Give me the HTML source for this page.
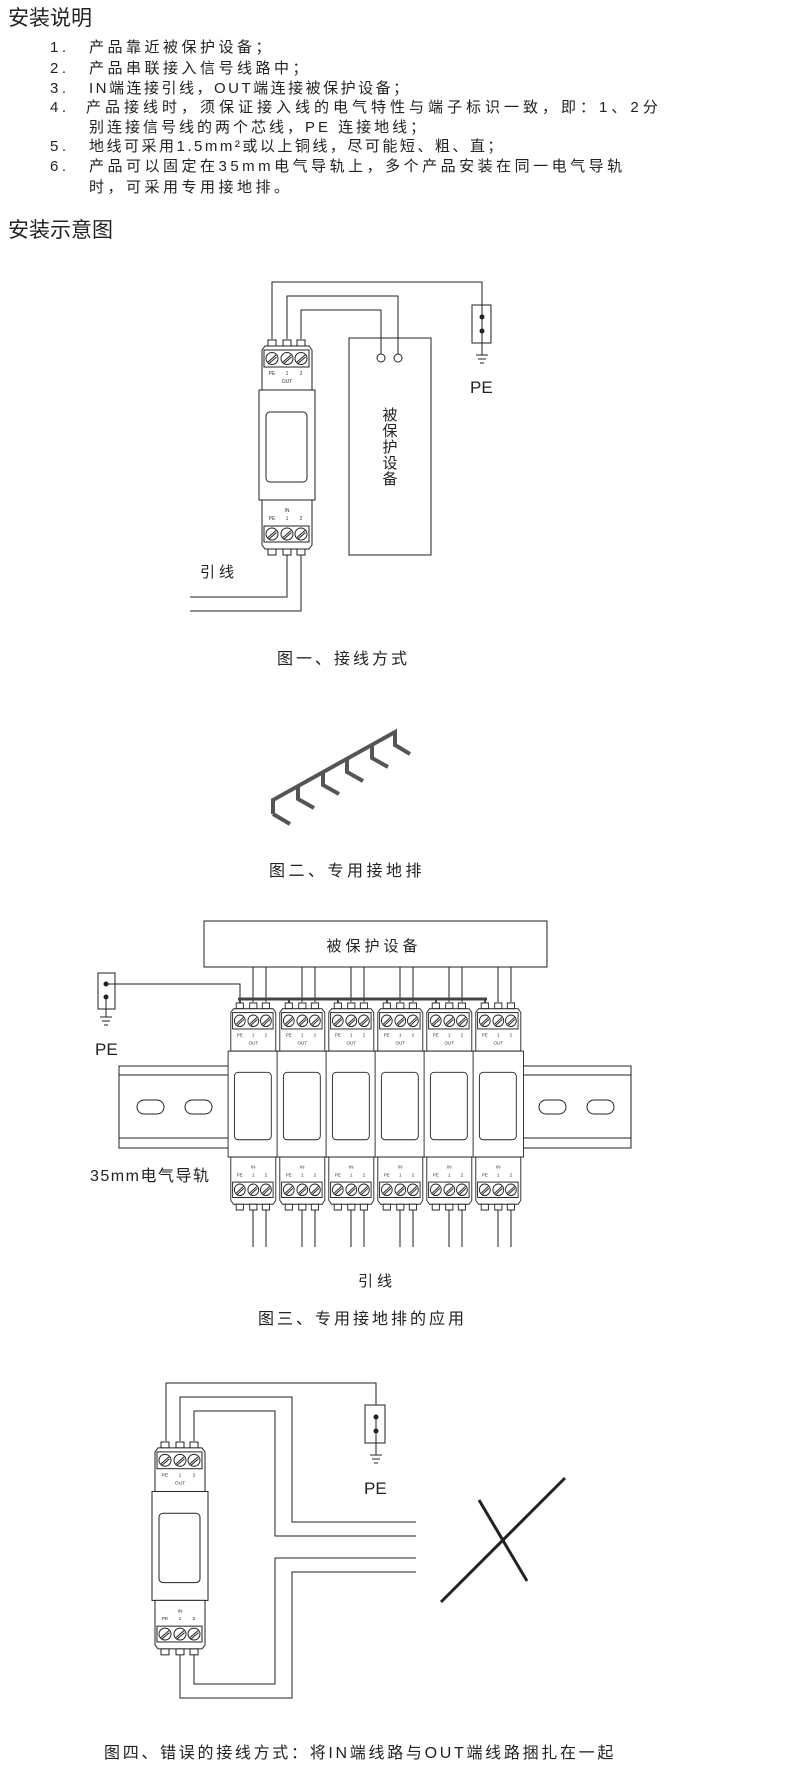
<!DOCTYPE html>
<html><head><meta charset="utf-8"><style>
html,body{margin:0;padding:0;background:#fff;}
svg{display:block;}
text{font-family:"Liberation Sans","Noto Sans CJK SC",sans-serif;fill:#222;}
.t{font-size:5px;fill:#333;}
</style></head><body>
<svg width="790" height="1776" viewBox="0 0 790 1776" xmlns="http://www.w3.org/2000/svg">
<defs>
<g id="dev" stroke="#222" stroke-width="1" fill="#fff">
  <rect x="8" y="1" width="8" height="6"/><rect x="23" y="1" width="8" height="6"/><rect x="37" y="1" width="8" height="6"/>
  <path d="M2,11 L5,7 H49 L52,11 V51 H2 Z"/>
  <rect x="4" y="11" width="45" height="17"/>
  <circle cx="12" cy="19.5" r="6"/><circle cx="27" cy="19.5" r="6"/><circle cx="41" cy="19.5" r="6"/>
  <path d="M8,23 L16,16 M9,24.5 L16.5,18 M23,23 L31,16 M24,24.5 L31.5,18 M37,23 L45,16 M38,24.5 L45.5,18" fill="none"/>
  <rect x="-1" y="51" width="56" height="110"/>
  <rect x="6" y="73" width="41" height="70" rx="4"/>
  <path d="M2,161 H52 V206 L49,210 H5 L2,206 Z"/>
  <rect x="4" y="187" width="45" height="16"/>
  <circle cx="12" cy="195" r="6"/><circle cx="27" cy="195" r="6"/><circle cx="41" cy="195" r="6"/>
  <path d="M8,198.5 L16,191.5 M9,200 L16.5,193.5 M23,198.5 L31,191.5 M24,200 L31.5,193.5 M37,198.5 L45,191.5 M38,200 L45.5,193.5" fill="none"/>
  <rect x="8" y="210" width="8" height="6"/><rect x="23" y="210" width="8" height="6"/><rect x="37" y="210" width="8" height="6"/>
</g>
<g id="gnd" stroke="#222" stroke-width="1">
  <line x1="-6" y1="0" x2="6" y2="0"/><line x1="-4" y1="4" x2="4" y2="4"/><line x1="-2" y1="8" x2="2" y2="8"/>
</g>
</defs>

<!-- Text section -->
<text x="8" y="25" font-size="21">安装说明</text>
<g font-size="15" letter-spacing="3.5">
<text x="50" y="52">1.</text><text x="89" y="52">产品靠近被保护设备；</text>
<text x="50" y="73">2.</text><text x="89" y="73">产品串联接入信号线路中；</text>
<text x="50" y="93">3.</text><text x="89" y="93" letter-spacing="2.5">IN端连接引线，OUT端连接被保护设备；</text>
<text x="50" y="112">4.</text><text x="86" y="112" letter-spacing="4">产品接线时，须保证接入线的电气特性与端子标识一致，即：1、2分</text>
<text x="89" y="132" letter-spacing="3">别连接信号线的两个芯线，PE 连接地线；</text>
<text x="50" y="151">5.</text><text x="89" y="151" letter-spacing="2.5">地线可采用1.5mm²或以上铜线，尽可能短、粗、直；</text>
<text x="50" y="171">6.</text><text x="89" y="171" letter-spacing="3.5">产品可以固定在35mm电气导轨上，多个产品安装在同一电气导轨</text>
<text x="89" y="192">时，可采用专用接地排。</text>
</g>
<text x="8" y="237" font-size="21">安装示意图</text>

<!-- Figure 1 -->
<g fill="none" stroke="#222" stroke-width="1">
  <path d="M272,339 V282 H482 V343"/>
  <path d="M287,339 V296 H398 V354"/>
  <path d="M301,339 V310 H381 V354"/>
  <path d="M287,555 V597 H190"/>
  <path d="M301,555 V611 H190"/>
  <rect x="349" y="338" width="82" height="217"/>
  <circle cx="381" cy="358" r="4" fill="#fff"/>
  <circle cx="398" cy="358" r="4" fill="#fff"/>
  <rect x="472" y="305" width="19" height="38"/>
  <line x1="482" y1="343" x2="482" y2="355"/>
</g>
<circle cx="482" cy="317" r="2.5" fill="#222"/><circle cx="482" cy="331" r="2.5" fill="#222"/>
<use href="#gnd" x="482" y="355"/>
<g transform="translate(260,339)"><use href="#dev"/>
<text class="t" x="12" y="36" text-anchor="middle">PE</text><text class="t" x="27" y="36" text-anchor="middle">1</text><text class="t" x="41" y="36" text-anchor="middle">2</text><text class="t" x="27" y="44" text-anchor="middle">OUT</text>
<text class="t" x="27" y="173" text-anchor="middle">IN</text><text class="t" x="12" y="181" text-anchor="middle">PE</text><text class="t" x="27" y="181" text-anchor="middle">1</text><text class="t" x="41" y="181" text-anchor="middle">2</text></g>
<g font-size="15" text-anchor="middle">
<text x="390" y="420">被</text><text x="390" y="436">保</text><text x="390" y="452">护</text><text x="390" y="468">设</text><text x="390" y="484">备</text>
</g>
<text x="470" y="393" font-size="17">PE</text>
<text x="200" y="577" font-size="15" letter-spacing="4">引线</text>
<text x="277" y="664" font-size="16" letter-spacing="3">图一、接线方式</text>

<!-- Figure 2 -->
<g fill="none" stroke="#555" stroke-width="4" stroke-linejoin="miter">
  <path d="M273,814 V800 L395,732 V745 L410,754"/>
  <path d="M273,814 L290,824"/>
  <path d="M298,786 V799 L314,808"/>
  <path d="M323,772 V785 L339,794"/>
  <path d="M347,759 V772 L363,781"/>
  <path d="M372,745 V758 L388,767"/>
</g>
<text x="269" y="876" font-size="16" letter-spacing="3.5">图二、专用接地排</text>

<!-- Figure 3 -->
<g fill="none" stroke="#222" stroke-width="1">
  <rect x="204" y="921" width="343" height="46"/>
  <rect x="119" y="1066" width="512" height="82"/>
  <line x1="119" y1="1075" x2="631" y2="1075"/><line x1="119" y1="1138" x2="631" y2="1138"/>
  <rect x="137" y="1100" width="27" height="14" rx="7"/><rect x="185" y="1100" width="27" height="14" rx="7"/>
  <rect x="539" y="1100" width="27" height="14" rx="7"/><rect x="587" y="1100" width="27" height="14" rx="7"/>
  <path d="M253,967 V1002 M266,967 V1002 M302,967 V1002 M315,967 V1002 M351,967 V1002 M364,967 V1002 M400,967 V1002 M413,967 V1002 M449,967 V1002 M462,967 V1002 M498,967 V1002 M511,967 V1002"/>
  <path d="M253,1210 V1247 M266,1210 V1247 M302,1210 V1247 M315,1210 V1247 M351,1210 V1247 M364,1210 V1247 M400,1210 V1247 M413,1210 V1247 M449,1210 V1247 M462,1210 V1247 M498,1210 V1247 M511,1210 V1247"/>
  <rect x="98" y="973" width="17" height="36"/>
  <path d="M106,984 H240 V999"/>
  <line x1="106" y1="997" x2="106" y2="1017"/>
</g>
<circle cx="106" cy="984" r="2.5" fill="#222"/><circle cx="106" cy="997" r="2.5" fill="#222"/>
<use href="#gnd" x="106" y="1017"/>
<text x="374" y="951" font-size="15" text-anchor="middle" letter-spacing="4">被保护设备</text>
<g transform="translate(229,1002) scale(0.9,0.963)"><use href="#dev"/>
<text class="t" x="12" y="36" text-anchor="middle">PE</text><text class="t" x="27" y="36" text-anchor="middle">1</text><text class="t" x="41" y="36" text-anchor="middle">2</text><text class="t" x="27" y="44" text-anchor="middle">OUT</text>
<text class="t" x="27" y="173" text-anchor="middle">IN</text><text class="t" x="12" y="181" text-anchor="middle">PE</text><text class="t" x="27" y="181" text-anchor="middle">1</text><text class="t" x="41" y="181" text-anchor="middle">2</text></g>
<g transform="translate(278,1002) scale(0.9,0.963)"><use href="#dev"/>
<text class="t" x="12" y="36" text-anchor="middle">PE</text><text class="t" x="27" y="36" text-anchor="middle">1</text><text class="t" x="41" y="36" text-anchor="middle">2</text><text class="t" x="27" y="44" text-anchor="middle">OUT</text>
<text class="t" x="27" y="173" text-anchor="middle">IN</text><text class="t" x="12" y="181" text-anchor="middle">PE</text><text class="t" x="27" y="181" text-anchor="middle">1</text><text class="t" x="41" y="181" text-anchor="middle">2</text></g>
<g transform="translate(327,1002) scale(0.9,0.963)"><use href="#dev"/>
<text class="t" x="12" y="36" text-anchor="middle">PE</text><text class="t" x="27" y="36" text-anchor="middle">1</text><text class="t" x="41" y="36" text-anchor="middle">2</text><text class="t" x="27" y="44" text-anchor="middle">OUT</text>
<text class="t" x="27" y="173" text-anchor="middle">IN</text><text class="t" x="12" y="181" text-anchor="middle">PE</text><text class="t" x="27" y="181" text-anchor="middle">1</text><text class="t" x="41" y="181" text-anchor="middle">2</text></g>
<g transform="translate(376,1002) scale(0.9,0.963)"><use href="#dev"/>
<text class="t" x="12" y="36" text-anchor="middle">PE</text><text class="t" x="27" y="36" text-anchor="middle">1</text><text class="t" x="41" y="36" text-anchor="middle">2</text><text class="t" x="27" y="44" text-anchor="middle">OUT</text>
<text class="t" x="27" y="173" text-anchor="middle">IN</text><text class="t" x="12" y="181" text-anchor="middle">PE</text><text class="t" x="27" y="181" text-anchor="middle">1</text><text class="t" x="41" y="181" text-anchor="middle">2</text></g>
<g transform="translate(425,1002) scale(0.9,0.963)"><use href="#dev"/>
<text class="t" x="12" y="36" text-anchor="middle">PE</text><text class="t" x="27" y="36" text-anchor="middle">1</text><text class="t" x="41" y="36" text-anchor="middle">2</text><text class="t" x="27" y="44" text-anchor="middle">OUT</text>
<text class="t" x="27" y="173" text-anchor="middle">IN</text><text class="t" x="12" y="181" text-anchor="middle">PE</text><text class="t" x="27" y="181" text-anchor="middle">1</text><text class="t" x="41" y="181" text-anchor="middle">2</text></g>
<g transform="translate(474,1002) scale(0.9,0.963)"><use href="#dev"/>
<text class="t" x="12" y="36" text-anchor="middle">PE</text><text class="t" x="27" y="36" text-anchor="middle">1</text><text class="t" x="41" y="36" text-anchor="middle">2</text><text class="t" x="27" y="44" text-anchor="middle">OUT</text>
<text class="t" x="27" y="173" text-anchor="middle">IN</text><text class="t" x="12" y="181" text-anchor="middle">PE</text><text class="t" x="27" y="181" text-anchor="middle">1</text><text class="t" x="41" y="181" text-anchor="middle">2</text></g>
<line x1="238" y1="999" x2="487" y2="999" stroke="#444" stroke-width="3"/>
<g stroke="#444" stroke-width="2"><path d="M240,999 V1003 M289,999 V1003 M338,999 V1003 M387,999 V1003 M436,999 V1003 M485,999 V1003"/></g>
<text x="95" y="1055" font-size="17">PE</text>
<text x="90" y="1181" font-size="16" letter-spacing="1.5">35mm电气导轨</text>
<text x="358" y="1286" font-size="15" letter-spacing="4">引线</text>
<text x="258" y="1324" font-size="16" letter-spacing="3">图三、专用接地排的应用</text>

<!-- Figure 4 -->
<g fill="none" stroke="#222" stroke-width="1">
  <path d="M166,1441 V1383 H376 V1405"/>
  <path d="M180,1441 V1397 H292 V1522 H416"/>
  <path d="M194,1441 V1411 H275 V1536 H416"/>
  <path d="M180,1655 V1698 H292 V1572 H416"/>
  <path d="M194,1655 V1684 H275 V1558 H416"/>
  <rect x="365" y="1405" width="20" height="38"/>
  <line x1="376" y1="1417" x2="376" y2="1455"/>
</g>
<circle cx="376" cy="1417" r="2.5" fill="#222"/><circle cx="376" cy="1431" r="2.5" fill="#222"/>
<use href="#gnd" x="376" y="1455"/>
<g transform="translate(153,1441) scale(1,0.99)"><use href="#dev"/>
<text class="t" x="12" y="36" text-anchor="middle">PE</text><text class="t" x="27" y="36" text-anchor="middle">1</text><text class="t" x="41" y="36" text-anchor="middle">2</text><text class="t" x="27" y="44" text-anchor="middle">OUT</text>
<text class="t" x="27" y="173" text-anchor="middle">IN</text><text class="t" x="12" y="181" text-anchor="middle">PE</text><text class="t" x="27" y="181" text-anchor="middle">1</text><text class="t" x="41" y="181" text-anchor="middle">2</text></g>
<text x="364" y="1494" font-size="17">PE</text>
<g stroke="#222" stroke-width="3"><line x1="441" y1="1602" x2="565" y2="1478"/><line x1="479" y1="1500" x2="527" y2="1581"/></g>
<text x="104" y="1758" font-size="16" letter-spacing="2.7">图四、错误的接线方式：将IN端线路与OUT端线路捆扎在一起</text>
</svg>
</body></html>
